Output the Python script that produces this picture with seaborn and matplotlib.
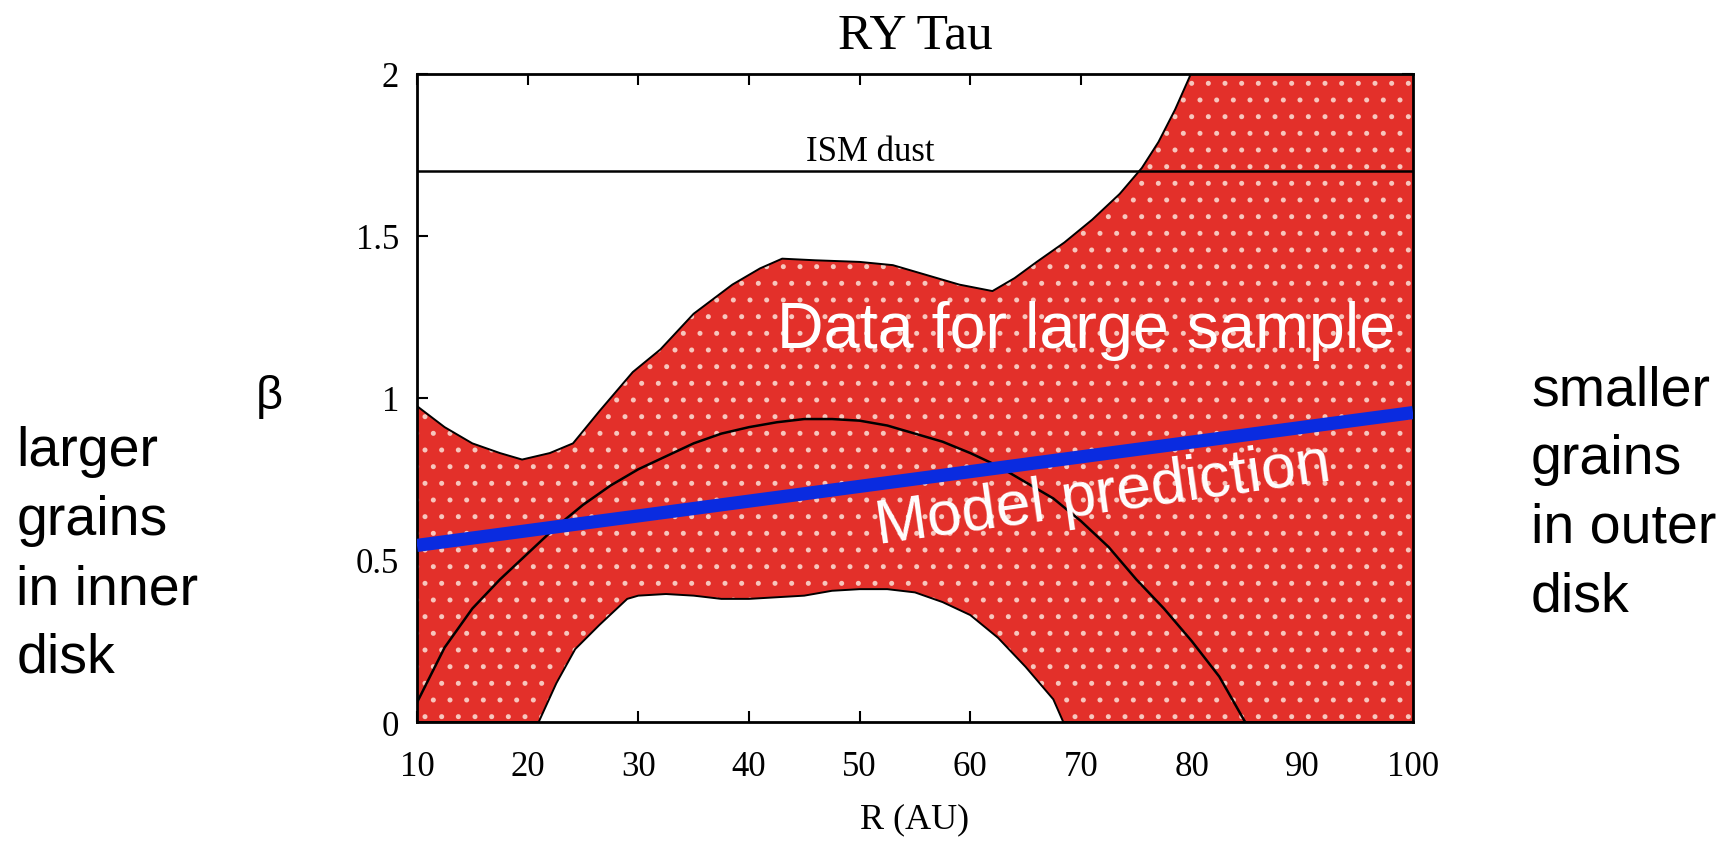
import numpy as np
import pandas as pd
import seaborn as sns
from matplotlib import pyplot as plt
from matplotlib.ticker import FormatStrFormatter

# band of measured beta (upper / lower edges)
upper_r = [10, 12.5, 15, 17.5, 19.5, 22, 24.1, 26.5, 29.5, 32, 35, 38.5, 41, 43, 46, 50,
           53, 56, 59, 62, 64, 66, 68.5, 71, 73.5, 75.5, 77, 78.5, 79.8, 81, 100]
upper_beta = [0.975, 0.91, 0.86, 0.83, 0.81, 0.83, 0.86, 0.96, 1.08, 1.15, 1.26, 1.35, 1.40, 1.43,
              1.425, 1.42, 1.41, 1.38, 1.35, 1.33, 1.37, 1.42, 1.48, 1.55, 1.63, 1.71, 1.79,
              1.89, 1.99, 2.1, 2.1]
lower_r = [10, 21, 22.6, 24.3, 26.5, 29, 30, 32.5, 35, 37.5, 40, 42.5, 45, 47.5, 50, 52.5,
           55, 57.5, 60, 62.5, 65, 67.5, 68.4, 100]
lower_beta = [0, 0, 0.12, 0.225, 0.30, 0.38, 0.39, 0.395, 0.39, 0.38, 0.38, 0.385, 0.39, 0.405,
              0.41, 0.41, 0.40, 0.37, 0.33, 0.26, 0.17, 0.07, 0, 0]

# black fitted curve
fit_r = [10, 12.5, 15, 17.5, 20, 22.5, 25, 27.5, 30, 32.5, 35, 37.5, 40, 42.5, 45, 47.5, 50,
         52.5, 55, 57.5, 60, 62.5, 65, 67.5, 70, 72.5, 75, 77.5, 80, 82.5, 85]
fit_beta = [0.06, 0.23, 0.35, 0.44, 0.52, 0.60, 0.67, 0.73, 0.78, 0.82, 0.86, 0.89, 0.91, 0.925,
            0.935, 0.935, 0.93, 0.915, 0.89, 0.865, 0.83, 0.79, 0.74, 0.69, 0.62, 0.54, 0.44,
            0.35, 0.25, 0.14, -0.01]

# model prediction (blue)
model_r = [10, 100]
model_beta = [0.545, 0.955]

ism_beta = 1.7
xticks = [10, 20, 30, 40, 50, 60, 70, 80, 90, 100]
yticks = [0, 0.5, 1, 1.5, 2]

sns.set_theme(style="ticks")
plt.rcParams['font.family'] = ['Liberation Serif', 'DejaVu Serif']
plt.rcParams['hatch.linewidth'] = 1.2
plt.rcParams['text.color'] = 'black'
plt.rcParams['axes.labelcolor'] = 'black'
sans = ['Liberation Sans', 'DejaVu Sans']

fig = plt.figure(figsize=(17.28, 8.53), dpi=100)
ax = fig.add_axes([0.2413, 0.1524, 0.5764, 0.7597])

# red band with white dot texture
band_x = upper_r + lower_r[::-1]
band_y = upper_beta + lower_beta[::-1]
ax.fill(band_x, band_y, facecolor='#e3302a', edgecolor='#f7c6bd', hatch='.', linewidth=0, zorder=1)

sns.lineplot(x=upper_r, y=upper_beta, ax=ax, color='black', linewidth=1.4, estimator=None, zorder=2)
sns.lineplot(x=lower_r, y=lower_beta, ax=ax, color='black', linewidth=1.4, estimator=None, zorder=2)
sns.lineplot(x=fit_r, y=fit_beta, ax=ax, color='black', linewidth=1.8, estimator=None, zorder=3)
ax.axhline(ism_beta, color='black', linewidth=1.8, zorder=3)
sns.lineplot(x=model_r, y=model_beta, ax=ax, color='#0a2be0', linewidth=9.5, estimator=None,
             zorder=4, solid_capstyle='butt')

ax.set_xlim(10, 100)
ax.set_ylim(0, 2)
ax.set_xticks(xticks)
ax.set_yticks(yticks)
ax.yaxis.set_major_formatter(FormatStrFormatter('%g'))
ax.tick_params(direction='in', length=8, width=1.5, top=True, right=True, labelsize=25, colors='black')
ax.tick_params(axis='x', pad=20)
ax.tick_params(axis='y', pad=13)
for s in ax.spines.values():
    s.set_linewidth(2)
    s.set_color('black')
ax.set_xlabel('R (AU)', fontsize=26, labelpad=14)
ax.set_ylabel('')
ax.set_title('RY Tau', fontsize=37, pad=19)

ax.text(51, 1.735, 'ISM dust', fontsize=25, ha='center', va='baseline', zorder=5)
ax.text(70.5, 1.157, 'Data for large sample', fontsize=46.5, color='white', family=sans,
        ha='center', va='baseline', zorder=5)
ax.text(72, 0.70, 'Model prediction', fontsize=45, color='white', family=sans,
        ha='center', va='center', rotation=8, rotation_mode='anchor', zorder=5)

fig.text(0.156, 0.535, 'β', fontsize=34, family=sans, ha='center', va='center')
fig.text(0.0095, 0.50, 'larger\ngrains\nin inner\ndisk', fontsize=40, family=sans,
         ha='left', va='top', linespacing=1.42)
fig.text(0.886, 0.572, 'smaller\ngrains\nin outer\ndisk', fontsize=40, family=sans,
         ha='left', va='top', linespacing=1.42)

fig.savefig('out.png', dpi=100)
